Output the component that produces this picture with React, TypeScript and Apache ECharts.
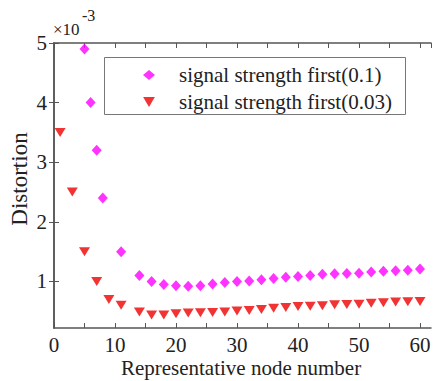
import React, { useEffect, useRef } from "react";
import * as echarts from "echarts";

const seriesNames = ["signal strength first(0.1)", "signal strength first(0.03)"];

const magentaX = [5, 6, 7, 8, 11, 14, 16, 18, 20, 22, 24, 26, 28, 30, 32, 34, 36, 38, 40, 42, 44, 46, 48, 50, 52, 54, 56, 58, 60];
const magentaY = [4.9, 4.0, 3.2, 2.4, 1.5, 1.1, 1.0, 0.95, 0.93, 0.92, 0.93, 0.96, 0.985, 1.0, 1.01, 1.03, 1.05, 1.07, 1.085, 1.1, 1.12, 1.13, 1.135, 1.14, 1.16, 1.17, 1.18, 1.19, 1.21];

const redX = [1, 3, 5, 7, 9, 11, 14, 16, 18, 20, 22, 24, 26, 28, 30, 32, 34, 36, 38, 40, 42, 44, 46, 48, 50, 52, 54, 56, 58, 60];
const redY = [3.5, 2.5, 1.5, 1.0, 0.7, 0.6, 0.49, 0.44, 0.44, 0.46, 0.47, 0.475, 0.48, 0.49, 0.505, 0.515, 0.53, 0.55, 0.565, 0.58, 0.585, 0.595, 0.61, 0.615, 0.62, 0.635, 0.645, 0.655, 0.66, 0.665];

const yTicks = [1, 2, 3, 4, 5];

const FONT = "'Liberation Serif', 'Times New Roman', serif";
const TRI = "path://M0,0 L10,0 L5,8.5 Z";

export default function App() {
  const ref = useRef<HTMLDivElement>(null);
  useEffect(() => {
    const chart = echarts.init(ref.current!, undefined, { renderer: "svg" });
    const axisLine = { show: true, lineStyle: { color: "#555", width: 1.5 } };
    const xCommon = {
      type: "value",
      min: 0,
      max: 61.8,
      interval: 5,
      axisLine,
      splitLine: { show: false },
      axisTick: { show: true, inside: true, length: 5, lineStyle: { color: "#555", width: 1 } },
    };
    const yCommon = {
      type: "value",
      min: 0.22,
      max: 5,
      axisLine,
      splitLine: { show: false },
      axisTick: { show: true, inside: true, length: 5, customValues: yTicks, lineStyle: { color: "#555", width: 1 } },
    };
    chart.setOption({
      animation: false,
      textStyle: { fontFamily: FONT },
      grid: { left: 54, top: 43, right: 3, bottom: 53, containLabel: false },
      xAxis: [
        {
          ...xCommon,
          position: "bottom",
          axisLabel: {
            show: true,
            margin: 6,
            fontFamily: FONT,
            fontSize: 21,
            color: "#222",
            showMaxLabel: false,
            formatter: (v: number) => (Math.abs(v % 10) < 1e-6 ? String(v) : ""),
          },
        },
        { ...xCommon, position: "top", axisLabel: { show: false } },
      ],
      yAxis: [
        {
          ...yCommon,
          position: "left",
          axisLabel: { show: true, customValues: yTicks, margin: 7, fontFamily: FONT, fontSize: 21, color: "#222" },
        },
        { ...yCommon, position: "right", axisLabel: { show: false } },
      ],
      legend: {
        left: 104,
        top: 57,
        orient: "vertical",
        padding: [5, 20, 0, 39],
        itemGap: 1,
        itemWidth: 12,
        itemHeight: 10,
        borderWidth: 0,
        textStyle: { fontFamily: FONT, fontSize: 21, color: "#222", lineHeight: 26, padding: [0, 0, 0, 19] },
        data: [
          { name: seriesNames[0], icon: "diamond" },
          { name: seriesNames[1], icon: TRI },
        ],
      },
      graphic: [
        {
          type: "rect",
          z: 0,
          shape: { x: 104.5, y: 57.5, width: 301, height: 57 },
          style: { fill: "#fff", stroke: "#777", lineWidth: 1 },
        },
        { type: "text", left: 53, top: 21, style: { text: "×10", font: `17px ${FONT}`, fill: "#222" } },
        { type: "text", left: 82, top: 7, style: { text: "-3", font: `16px ${FONT}`, fill: "#222" } },
        {
          type: "text",
          x: 19,
          y: 179,
          rotation: Math.PI / 2,
          style: { text: "Distortion", font: `23px ${FONT}`, fill: "#222", align: "center", verticalAlign: "middle" },
        },
        {
          type: "text",
          x: 241,
          y: 368,
          style: { text: "Representative node number", font: `21px ${FONT}`, fill: "#222", align: "center", verticalAlign: "middle" },
        },
      ],
      series: [
        {
          name: seriesNames[0],
          type: "scatter",
          symbol: "diamond",
          symbolSize: [10, 11],
          itemStyle: { color: "#ff00ff" },
          data: magentaX.map((x, i) => [x, magentaY[i]]),
        },
        {
          name: seriesNames[1],
          type: "scatter",
          symbol: TRI,
          symbolSize: [11, 9],
          itemStyle: { color: "#ee0000" },
          data: redX.map((x, i) => [x, redY[i]]),
        },
      ],
    });
    return () => chart.dispose();
  }, []);
  return <div ref={ref} style={{ width: 434, height: 381, position: "absolute", left: 0, top: 0, background: "#fff" }} />;
}
